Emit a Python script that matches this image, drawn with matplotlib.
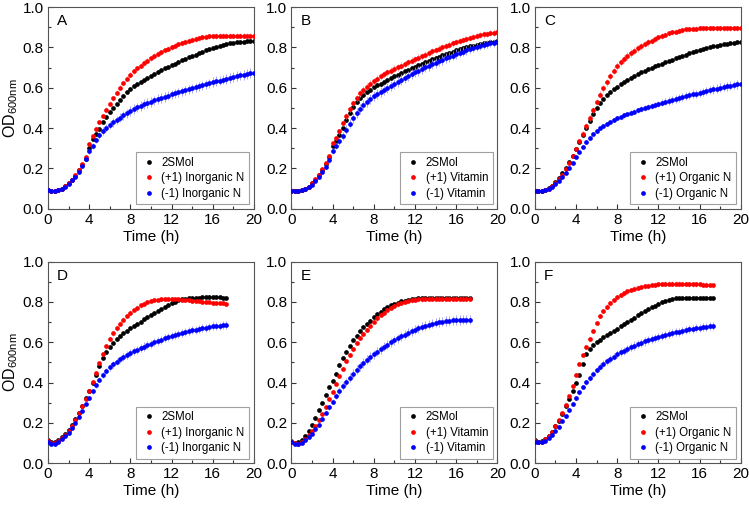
import numpy as np
import matplotlib
matplotlib.use("Agg")
import matplotlib.pyplot as plt
from matplotlib.ticker import MultipleLocator
from matplotlib.lines import Line2D

plt.rcParams["font.family"] = ["Liberation Sans", "DejaVu Sans"]
plt.rcParams["mathtext.default"] = "regular"

# sampling every 20 min
t_top = np.arange(61) / 3.0   # 0 .. 20 h
t_bot = np.arange(53) / 3.0   # 0 .. 17.33 h

legend_names = {
    "A": ["2SMol", "(+1) Inorganic N", "(-1) Inorganic N"],
    "B": ["2SMol", "(+1) Vitamin", "(-1) Vitamin"],
    "C": ["2SMol", "(+1) Organic N", "(-1) Organic N"],
}
legend_names["D"] = legend_names["A"]
legend_names["E"] = legend_names["B"]
legend_names["F"] = legend_names["C"]

# ---- panel A ----
A_ctrl = [0.092, 0.090, 0.089, 0.092, 0.100, 0.111, 0.127, 0.145, 0.165, 0.190, 0.218, 0.248,
          0.300, 0.345, 0.372, 0.398, 0.428, 0.455, 0.478, 0.500, 0.520, 0.540, 0.560, 0.578,
          0.595, 0.607, 0.619, 0.630, 0.640, 0.650, 0.660, 0.669, 0.678, 0.687, 0.696, 0.704,
          0.712, 0.720, 0.728, 0.736, 0.744, 0.751, 0.758, 0.765, 0.772, 0.779, 0.786, 0.792,
          0.798, 0.804, 0.809, 0.814, 0.818, 0.821, 0.824, 0.826, 0.828, 0.829, 0.830, 0.831, 0.832]
A_plus = [0.092, 0.090, 0.089, 0.092, 0.100, 0.111, 0.127, 0.145, 0.166, 0.192, 0.222, 0.255,
          0.320, 0.360, 0.395, 0.430, 0.462, 0.492, 0.520, 0.548, 0.575, 0.600, 0.623, 0.645,
          0.665, 0.681, 0.696, 0.710, 0.723, 0.735, 0.746, 0.757, 0.767, 0.776, 0.785, 0.793,
          0.801, 0.808, 0.815, 0.821, 0.827, 0.833, 0.838, 0.842, 0.846, 0.850, 0.853, 0.855,
          0.856, 0.857, 0.858, 0.858, 0.859, 0.859, 0.859, 0.859, 0.859, 0.858, 0.858, 0.858, 0.857]
A_minus = [0.092, 0.090, 0.089, 0.092, 0.099, 0.109, 0.124, 0.141, 0.160, 0.183, 0.210, 0.245,
           0.285, 0.310, 0.340, 0.365, 0.385, 0.400, 0.415, 0.428, 0.440, 0.452, 0.463, 0.474,
           0.485, 0.494, 0.503, 0.511, 0.518, 0.525, 0.531, 0.537, 0.543, 0.549, 0.555, 0.561,
           0.567, 0.572, 0.577, 0.582, 0.587, 0.592, 0.597, 0.602, 0.607, 0.612, 0.617, 0.622,
           0.627, 0.632, 0.636, 0.641, 0.645, 0.649, 0.653, 0.657, 0.661, 0.665, 0.669, 0.672, 0.675]
A_ctrl_err = [0.002, 0.002, 0.002, 0.002, 0.002, 0.002, 0.003, 0.003, 0.003, 0.003, 0.004, 0.004,
              0.005, 0.005, 0.005, 0.005, 0.005, 0.005, 0.005, 0.005, 0.005, 0.005, 0.005, 0.005,
              0.005, 0.005, 0.005, 0.005, 0.005, 0.005, 0.005, 0.005, 0.005, 0.005, 0.005, 0.005,
              0.005, 0.005, 0.005, 0.005, 0.005, 0.005, 0.005, 0.005, 0.005, 0.005, 0.005, 0.005,
              0.005, 0.005, 0.005, 0.005, 0.005, 0.005, 0.005, 0.005, 0.005, 0.005, 0.005, 0.005, 0.005]
A_plus_err = [0.002, 0.002, 0.002, 0.002, 0.002, 0.003, 0.003, 0.004, 0.004, 0.005, 0.006, 0.007,
              0.008, 0.008, 0.009, 0.010, 0.010, 0.011, 0.011, 0.012, 0.012, 0.012, 0.013, 0.013,
              0.013, 0.013, 0.013, 0.013, 0.013, 0.013, 0.013, 0.013, 0.013, 0.013, 0.013, 0.013,
              0.013, 0.013, 0.013, 0.013, 0.013, 0.013, 0.013, 0.013, 0.013, 0.013, 0.013, 0.013,
              0.013, 0.013, 0.013, 0.013, 0.013, 0.013, 0.013, 0.013, 0.013, 0.013, 0.013, 0.013, 0.013]
A_minus_err = [0.002, 0.002, 0.002, 0.002, 0.003, 0.003, 0.004, 0.004, 0.005, 0.006, 0.008, 0.010,
               0.012, 0.014, 0.016, 0.018, 0.019, 0.020, 0.021, 0.022, 0.022, 0.023, 0.023, 0.023,
               0.024, 0.024, 0.024, 0.024, 0.024, 0.024, 0.024, 0.024, 0.024, 0.024, 0.024, 0.024,
               0.024, 0.024, 0.024, 0.024, 0.024, 0.024, 0.024, 0.024, 0.024, 0.024, 0.024, 0.024,
               0.024, 0.024, 0.024, 0.024, 0.024, 0.024, 0.024, 0.024, 0.024, 0.024, 0.024, 0.024, 0.024]

# ---- panel B ----
B_ctrl = [0.090, 0.089, 0.088, 0.092, 0.099, 0.110, 0.126, 0.145, 0.167, 0.193, 0.222, 0.255,
          0.310, 0.335, 0.365, 0.400, 0.438, 0.475, 0.505, 0.528, 0.548, 0.565, 0.579, 0.591,
          0.602, 0.612, 0.621, 0.630, 0.639, 0.648, 0.657, 0.665, 0.674, 0.682, 0.690, 0.698,
          0.705, 0.713, 0.720, 0.727, 0.734, 0.741, 0.748, 0.755, 0.761, 0.767, 0.773, 0.779,
          0.785, 0.790, 0.795, 0.800, 0.805, 0.809, 0.813, 0.817, 0.820, 0.823, 0.826, 0.828, 0.830]
B_plus = [0.090, 0.089, 0.088, 0.092, 0.099, 0.110, 0.126, 0.146, 0.169, 0.196, 0.227, 0.262,
          0.325, 0.350, 0.385, 0.425, 0.460, 0.495, 0.525, 0.550, 0.572, 0.590, 0.606, 0.620,
          0.633, 0.645, 0.656, 0.666, 0.676, 0.685, 0.694, 0.702, 0.710, 0.718, 0.726, 0.734,
          0.742, 0.750, 0.757, 0.765, 0.772, 0.780, 0.787, 0.794, 0.801, 0.807, 0.814, 0.820,
          0.826, 0.832, 0.838, 0.843, 0.848, 0.853, 0.857, 0.861, 0.865, 0.868, 0.871, 0.873, 0.875]
B_minus = [0.090, 0.089, 0.088, 0.091, 0.097, 0.106, 0.120, 0.137, 0.157, 0.181, 0.208, 0.240,
           0.285, 0.310, 0.335, 0.362, 0.392, 0.422, 0.450, 0.474, 0.496, 0.515, 0.531, 0.545,
           0.557, 0.569, 0.580, 0.591, 0.601, 0.611, 0.621, 0.631, 0.641, 0.650, 0.659, 0.668,
           0.677, 0.685, 0.693, 0.701, 0.709, 0.717, 0.724, 0.731, 0.739, 0.746, 0.753, 0.760,
           0.767, 0.773, 0.779, 0.785, 0.791, 0.796, 0.802, 0.807, 0.811, 0.816, 0.820, 0.823, 0.826]
B_ctrl_err = [0.002, 0.002, 0.002, 0.002, 0.002, 0.003, 0.003, 0.004, 0.004, 0.005, 0.005, 0.006,
              0.007, 0.008, 0.008, 0.009, 0.009, 0.010, 0.010, 0.010, 0.010, 0.010, 0.010, 0.010,
              0.010, 0.010, 0.010, 0.010, 0.010, 0.010, 0.010, 0.010, 0.010, 0.010, 0.010, 0.010,
              0.010, 0.010, 0.010, 0.010, 0.010, 0.010, 0.010, 0.010, 0.010, 0.010, 0.010, 0.010,
              0.010, 0.010, 0.010, 0.010, 0.010, 0.010, 0.010, 0.010, 0.010, 0.010, 0.010, 0.010, 0.010]
B_plus_err = [0.002, 0.002, 0.002, 0.002, 0.003, 0.003, 0.004, 0.004, 0.005, 0.006, 0.007, 0.008,
              0.010, 0.011, 0.012, 0.013, 0.014, 0.015, 0.016, 0.016, 0.017, 0.017, 0.017, 0.017,
              0.017, 0.017, 0.017, 0.017, 0.017, 0.017, 0.017, 0.017, 0.017, 0.017, 0.017, 0.017,
              0.017, 0.017, 0.017, 0.017, 0.017, 0.017, 0.017, 0.017, 0.017, 0.017, 0.017, 0.016,
              0.016, 0.016, 0.016, 0.016, 0.016, 0.016, 0.016, 0.016, 0.016, 0.016, 0.016, 0.016, 0.016]
B_minus_err = [0.002, 0.002, 0.002, 0.002, 0.003, 0.003, 0.004, 0.005, 0.006, 0.007, 0.009, 0.011,
               0.013, 0.015, 0.017, 0.019, 0.021, 0.022, 0.023, 0.024, 0.024, 0.025, 0.025, 0.025,
               0.025, 0.025, 0.025, 0.025, 0.025, 0.025, 0.025, 0.025, 0.025, 0.025, 0.025, 0.025,
               0.025, 0.025, 0.025, 0.025, 0.024, 0.024, 0.024, 0.024, 0.024, 0.024, 0.023, 0.023,
               0.023, 0.022, 0.022, 0.022, 0.021, 0.021, 0.021, 0.020, 0.020, 0.020, 0.020, 0.019, 0.019]

# ---- panel C ----
C_ctrl = [0.088, 0.087, 0.088, 0.093, 0.102, 0.115, 0.132, 0.152, 0.176, 0.203, 0.232, 0.262,
          0.295, 0.330, 0.365, 0.400, 0.435, 0.468, 0.500, 0.525, 0.545, 0.562, 0.578, 0.592,
          0.605, 0.617, 0.628, 0.639, 0.649, 0.659, 0.668, 0.676, 0.684, 0.692, 0.699, 0.706,
          0.713, 0.720, 0.726, 0.733, 0.740, 0.746, 0.753, 0.759, 0.765, 0.771, 0.777, 0.782,
          0.787, 0.792, 0.797, 0.801, 0.805, 0.809, 0.813, 0.816, 0.819, 0.822, 0.824, 0.826, 0.828]
C_plus = [0.088, 0.087, 0.088, 0.092, 0.100, 0.112, 0.128, 0.147, 0.170, 0.197, 0.227, 0.260,
          0.295, 0.335, 0.372, 0.410, 0.450, 0.490, 0.530, 0.565, 0.598, 0.628, 0.657, 0.684,
          0.708, 0.726, 0.743, 0.758, 0.772, 0.784, 0.795, 0.806, 0.816, 0.825, 0.834, 0.842,
          0.850, 0.857, 0.864, 0.870, 0.875, 0.879, 0.883, 0.886, 0.889, 0.891, 0.892, 0.893,
          0.894, 0.895, 0.895, 0.895, 0.896, 0.896, 0.896, 0.896, 0.896, 0.896, 0.896, 0.896, 0.896]
C_minus = [0.088, 0.087, 0.087, 0.091, 0.098, 0.108, 0.122, 0.138, 0.157, 0.178, 0.202, 0.228,
           0.255, 0.282, 0.308, 0.332, 0.352, 0.370, 0.386, 0.399, 0.411, 0.422, 0.432, 0.441,
           0.449, 0.456, 0.463, 0.470, 0.476, 0.482, 0.488, 0.494, 0.500, 0.505, 0.510, 0.515,
           0.520, 0.525, 0.530, 0.535, 0.540, 0.545, 0.549, 0.554, 0.558, 0.563, 0.567, 0.571,
           0.575, 0.580, 0.584, 0.588, 0.592, 0.596, 0.600, 0.604, 0.608, 0.611, 0.614, 0.617, 0.620]
C_ctrl_err = [0.002, 0.002, 0.002, 0.002, 0.002, 0.002, 0.003, 0.003, 0.003, 0.004, 0.004, 0.004,
              0.005, 0.005, 0.005, 0.005, 0.005, 0.005, 0.005, 0.005, 0.005, 0.005, 0.005, 0.005,
              0.005, 0.005, 0.005, 0.005, 0.005, 0.005, 0.005, 0.005, 0.005, 0.005, 0.005, 0.005,
              0.005, 0.005, 0.005, 0.005, 0.005, 0.005, 0.005, 0.005, 0.005, 0.005, 0.005, 0.005,
              0.005, 0.005, 0.005, 0.005, 0.005, 0.005, 0.005, 0.005, 0.005, 0.005, 0.005, 0.005, 0.005]
C_plus_err = [0.002, 0.002, 0.002, 0.002, 0.002, 0.003, 0.003, 0.004, 0.005, 0.006, 0.007, 0.008,
              0.010, 0.011, 0.012, 0.013, 0.014, 0.015, 0.016, 0.017, 0.017, 0.018, 0.018, 0.018,
              0.018, 0.018, 0.018, 0.018, 0.018, 0.017, 0.017, 0.017, 0.016, 0.016, 0.015, 0.015,
              0.014, 0.014, 0.013, 0.013, 0.012, 0.012, 0.012, 0.012, 0.012, 0.012, 0.012, 0.012,
              0.012, 0.012, 0.012, 0.012, 0.012, 0.012, 0.012, 0.012, 0.012, 0.012, 0.012, 0.012, 0.012]
C_minus_err = [0.002, 0.002, 0.002, 0.002, 0.002, 0.003, 0.003, 0.003, 0.004, 0.004, 0.005, 0.005,
               0.006, 0.006, 0.006, 0.007, 0.007, 0.007, 0.008, 0.008, 0.008, 0.009, 0.009, 0.010,
               0.010, 0.011, 0.011, 0.012, 0.012, 0.013, 0.013, 0.014, 0.014, 0.015, 0.015, 0.016,
               0.016, 0.017, 0.017, 0.018, 0.018, 0.018, 0.019, 0.019, 0.019, 0.020, 0.020, 0.020,
               0.020, 0.021, 0.021, 0.021, 0.021, 0.021, 0.022, 0.022, 0.022, 0.022, 0.022, 0.022, 0.022]

# ---- panel D ----
D_ctrl = [0.115, 0.108, 0.108, 0.116, 0.128, 0.145, 0.165, 0.190, 0.218, 0.250, 0.285, 0.322,
          0.360, 0.400, 0.440, 0.480, 0.520, 0.553, 0.578, 0.598, 0.615, 0.630, 0.644, 0.657,
          0.669, 0.681, 0.692, 0.703, 0.714, 0.725, 0.735, 0.745, 0.755, 0.765, 0.775, 0.784,
          0.793, 0.801, 0.808, 0.813, 0.817, 0.819, 0.821, 0.822, 0.822, 0.823, 0.823, 0.823,
          0.823, 0.823, 0.823, 0.822, 0.822]
D_plus = [0.110, 0.103, 0.103, 0.112, 0.125, 0.142, 0.162, 0.187, 0.215, 0.247, 0.282, 0.320,
          0.360, 0.403, 0.447, 0.495, 0.540, 0.580, 0.615, 0.645, 0.670, 0.692, 0.712, 0.730,
          0.746, 0.760, 0.772, 0.783, 0.792, 0.799, 0.805, 0.809, 0.812, 0.814, 0.815, 0.815,
          0.815, 0.814, 0.813, 0.812, 0.810, 0.809, 0.807, 0.806, 0.804, 0.802, 0.800, 0.798,
          0.797, 0.795, 0.794, 0.793, 0.792]
D_minus = [0.105, 0.097, 0.098, 0.106, 0.118, 0.133, 0.152, 0.175, 0.200, 0.228, 0.260, 0.292,
           0.325, 0.357, 0.387, 0.415, 0.438, 0.458, 0.475, 0.490, 0.503, 0.515, 0.526, 0.536,
           0.546, 0.555, 0.563, 0.571, 0.579, 0.586, 0.593, 0.600, 0.607, 0.613, 0.619, 0.625,
           0.631, 0.636, 0.641, 0.646, 0.651, 0.655, 0.659, 0.663, 0.667, 0.670, 0.673, 0.676,
           0.679, 0.681, 0.683, 0.685, 0.687]
D_ctrl_err = [0.004, 0.003, 0.003, 0.003, 0.003, 0.003, 0.003, 0.003, 0.003, 0.004, 0.004, 0.004,
              0.004, 0.004, 0.004, 0.004, 0.004, 0.004, 0.004, 0.004, 0.004, 0.004, 0.004, 0.004,
              0.004, 0.004, 0.004, 0.004, 0.004, 0.004, 0.004, 0.004, 0.004, 0.004, 0.004, 0.004,
              0.004, 0.004, 0.004, 0.004, 0.004, 0.004, 0.004, 0.004, 0.004, 0.004, 0.004, 0.004,
              0.004, 0.004, 0.004, 0.004, 0.004]
D_plus_err = [0.004, 0.003, 0.003, 0.003, 0.003, 0.003, 0.004, 0.004, 0.005, 0.005, 0.006, 0.006,
              0.007, 0.007, 0.008, 0.009, 0.010, 0.011, 0.011, 0.012, 0.012, 0.012, 0.012, 0.012,
              0.012, 0.012, 0.012, 0.011, 0.011, 0.010, 0.010, 0.009, 0.009, 0.008, 0.008, 0.007,
              0.007, 0.006, 0.006, 0.006, 0.006, 0.006, 0.006, 0.006, 0.006, 0.006, 0.006, 0.006,
              0.006, 0.006, 0.006, 0.006, 0.006]
D_minus_err = [0.004, 0.003, 0.003, 0.003, 0.003, 0.004, 0.004, 0.005, 0.006, 0.007, 0.008, 0.009,
               0.010, 0.011, 0.012, 0.013, 0.014, 0.015, 0.016, 0.017, 0.018, 0.018, 0.019, 0.019,
               0.020, 0.020, 0.020, 0.020, 0.020, 0.020, 0.020, 0.020, 0.020, 0.020, 0.020, 0.020,
               0.020, 0.020, 0.020, 0.020, 0.020, 0.020, 0.020, 0.020, 0.020, 0.020, 0.020, 0.020,
               0.020, 0.020, 0.020, 0.020, 0.020]

# ---- panel E ----
E_ctrl = [0.110, 0.103, 0.105, 0.117, 0.135, 0.160, 0.190, 0.225, 0.262, 0.300, 0.338, 0.378,
          0.410, 0.445, 0.485, 0.520, 0.552, 0.580, 0.610, 0.633, 0.655, 0.675, 0.692, 0.708,
          0.724, 0.738, 0.751, 0.763, 0.774, 0.783, 0.791, 0.797, 0.803, 0.807, 0.811, 0.814,
          0.816, 0.818, 0.819, 0.820, 0.821, 0.821, 0.822, 0.822, 0.822, 0.822, 0.822, 0.822,
          0.822, 0.822, 0.822, 0.822, 0.822]
E_plus = [0.108, 0.100, 0.098, 0.106, 0.120, 0.138, 0.160, 0.185, 0.213, 0.245, 0.280, 0.318,
          0.355, 0.395, 0.432, 0.470, 0.505, 0.538, 0.568, 0.595, 0.620, 0.642, 0.663, 0.683,
          0.701, 0.718, 0.733, 0.747, 0.760, 0.771, 0.780, 0.788, 0.795, 0.800, 0.805, 0.808,
          0.811, 0.813, 0.814, 0.815, 0.816, 0.816, 0.816, 0.817, 0.817, 0.817, 0.817, 0.817,
          0.817, 0.817, 0.817, 0.817, 0.817]
E_minus = [0.105, 0.097, 0.096, 0.103, 0.114, 0.128, 0.146, 0.168, 0.192, 0.220, 0.248, 0.277,
           0.306, 0.333, 0.358, 0.382, 0.404, 0.425, 0.445, 0.463, 0.481, 0.497, 0.513, 0.527,
           0.541, 0.554, 0.566, 0.578, 0.589, 0.600, 0.610, 0.620, 0.629, 0.638, 0.647, 0.655,
           0.663, 0.670, 0.677, 0.683, 0.688, 0.693, 0.697, 0.700, 0.703, 0.705, 0.707, 0.709,
           0.710, 0.711, 0.712, 0.712, 0.712]
E_ctrl_err = [0.004, 0.003, 0.003, 0.003, 0.003, 0.003, 0.004, 0.004, 0.004, 0.005, 0.005, 0.005,
              0.006, 0.006, 0.006, 0.006, 0.006, 0.006, 0.006, 0.006, 0.006, 0.006, 0.006, 0.006,
              0.006, 0.006, 0.006, 0.006, 0.006, 0.006, 0.006, 0.006, 0.006, 0.006, 0.006, 0.006,
              0.006, 0.006, 0.006, 0.006, 0.006, 0.006, 0.006, 0.006, 0.006, 0.006, 0.006, 0.006,
              0.006, 0.006, 0.006, 0.006, 0.006]
E_plus_err = [0.004, 0.003, 0.003, 0.003, 0.003, 0.004, 0.004, 0.005, 0.005, 0.006, 0.006, 0.007,
              0.007, 0.008, 0.008, 0.009, 0.009, 0.010, 0.010, 0.010, 0.010, 0.010, 0.010, 0.010,
              0.010, 0.010, 0.010, 0.010, 0.011, 0.011, 0.011, 0.011, 0.012, 0.012, 0.012, 0.012,
              0.012, 0.012, 0.012, 0.012, 0.012, 0.012, 0.012, 0.012, 0.012, 0.012, 0.012, 0.012,
              0.012, 0.012, 0.012, 0.012, 0.012]
E_minus_err = [0.004, 0.003, 0.003, 0.003, 0.004, 0.004, 0.005, 0.006, 0.007, 0.008, 0.010, 0.012,
               0.014, 0.016, 0.018, 0.019, 0.020, 0.021, 0.022, 0.022, 0.023, 0.023, 0.023, 0.023,
               0.023, 0.023, 0.023, 0.023, 0.023, 0.023, 0.023, 0.023, 0.023, 0.023, 0.023, 0.023,
               0.023, 0.023, 0.023, 0.023, 0.023, 0.023, 0.023, 0.023, 0.023, 0.023, 0.023, 0.023,
               0.023, 0.023, 0.023, 0.023, 0.023]

# ---- panel F ----
F_ctrl = [0.115, 0.108, 0.110, 0.120, 0.135, 0.157, 0.183, 0.212, 0.245, 0.282, 0.320, 0.360,
          0.400, 0.440, 0.490, 0.540, 0.567, 0.585, 0.600, 0.612, 0.624, 0.636, 0.647, 0.658,
          0.668, 0.680, 0.690, 0.701, 0.712, 0.722, 0.733, 0.743, 0.753, 0.763, 0.773, 0.782,
          0.791, 0.799, 0.806, 0.811, 0.815, 0.818, 0.820, 0.821, 0.822, 0.822, 0.822, 0.822,
          0.822, 0.822, 0.822, 0.822, 0.822]
F_plus = [0.112, 0.105, 0.107, 0.118, 0.134, 0.156, 0.183, 0.214, 0.250, 0.290, 0.335, 0.385,
          0.440, 0.490, 0.535, 0.575, 0.617, 0.658, 0.697, 0.728, 0.755, 0.777, 0.795, 0.810,
          0.823, 0.834, 0.844, 0.852, 0.859, 0.865, 0.870, 0.874, 0.878, 0.881, 0.884, 0.886,
          0.888, 0.889, 0.890, 0.890, 0.890, 0.890, 0.890, 0.889, 0.889, 0.888, 0.888, 0.887,
          0.887, 0.886, 0.885, 0.884, 0.883]
F_minus = [0.108, 0.104, 0.105, 0.112, 0.123, 0.138, 0.158, 0.182, 0.208, 0.236, 0.265, 0.295,
           0.325, 0.352, 0.378, 0.402, 0.424, 0.444, 0.462, 0.478, 0.493, 0.506, 0.518, 0.529,
           0.540, 0.550, 0.559, 0.568, 0.576, 0.584, 0.591, 0.598, 0.604, 0.610, 0.616, 0.621,
           0.626, 0.631, 0.636, 0.640, 0.645, 0.649, 0.653, 0.657, 0.660, 0.664, 0.667, 0.670,
           0.673, 0.676, 0.678, 0.681, 0.683]
F_ctrl_err = [0.004, 0.003, 0.003, 0.003, 0.003, 0.003, 0.003, 0.003, 0.003, 0.004, 0.004, 0.004,
              0.004, 0.004, 0.004, 0.004, 0.004, 0.004, 0.004, 0.004, 0.004, 0.004, 0.004, 0.004,
              0.004, 0.004, 0.004, 0.004, 0.004, 0.004, 0.004, 0.004, 0.004, 0.004, 0.004, 0.004,
              0.004, 0.004, 0.004, 0.004, 0.004, 0.004, 0.004, 0.004, 0.004, 0.004, 0.004, 0.004,
              0.004, 0.004, 0.004, 0.004, 0.004]
F_plus_err = [0.004, 0.003, 0.003, 0.003, 0.003, 0.003, 0.004, 0.004, 0.005, 0.005, 0.006, 0.006,
              0.007, 0.007, 0.008, 0.008, 0.009, 0.009, 0.010, 0.010, 0.010, 0.011, 0.011, 0.011,
              0.011, 0.011, 0.012, 0.012, 0.012, 0.012, 0.012, 0.012, 0.012, 0.012, 0.012, 0.012,
              0.012, 0.012, 0.012, 0.012, 0.012, 0.012, 0.012, 0.012, 0.012, 0.012, 0.012, 0.012,
              0.012, 0.012, 0.012, 0.012, 0.012]
F_minus_err = [0.004, 0.003, 0.003, 0.003, 0.003, 0.004, 0.004, 0.005, 0.006, 0.007, 0.008, 0.009,
               0.010, 0.011, 0.012, 0.013, 0.014, 0.015, 0.016, 0.017, 0.018, 0.018, 0.019, 0.019,
               0.020, 0.020, 0.020, 0.020, 0.020, 0.020, 0.020, 0.020, 0.020, 0.020, 0.020, 0.020,
               0.020, 0.020, 0.020, 0.020, 0.020, 0.020, 0.020, 0.020, 0.020, 0.020, 0.020, 0.020,
               0.020, 0.020, 0.020, 0.020, 0.020]

panels = [
    ("A", t_top, [(A_ctrl, A_ctrl_err), (A_plus, A_plus_err), (A_minus, A_minus_err)]),
    ("B", t_top, [(B_ctrl, B_ctrl_err), (B_plus, B_plus_err), (B_minus, B_minus_err)]),
    ("C", t_top, [(C_ctrl, C_ctrl_err), (C_plus, C_plus_err), (C_minus, C_minus_err)]),
    ("D", t_bot, [(D_ctrl, D_ctrl_err), (D_plus, D_plus_err), (D_minus, D_minus_err)]),
    ("E", t_bot, [(E_ctrl, E_ctrl_err), (E_plus, E_plus_err), (E_minus, E_minus_err)]),
    ("F", t_bot, [(F_ctrl, F_ctrl_err), (F_plus, F_plus_err), (F_minus, F_minus_err)]),
]

dot_colors = ["#000000", "#ff0000", "#0000ff"]
err_colors = ["#8c8c8c", "#f29a9a", "#9a9af2"]

# axes rectangles (fraction of figure)
lefts = [0.064, 0.389, 0.714]
bottoms = [0.589, 0.088]
w, h = 0.275, 0.397

fig = plt.figure(figsize=(7.49, 5.08), dpi=100)

for i, (letter, t, series) in enumerate(panels):
    row, col = divmod(i, 3)
    ax = fig.add_axes([lefts[col], bottoms[row], w, h])
    handles = []
    for k, (vals, errs) in enumerate(series):
        ax.errorbar(t, vals, yerr=errs, fmt="o", ms=3.4, mew=0,
                    color=dot_colors[k], ecolor=err_colors[k],
                    elinewidth=0.6, capsize=1.6, capthick=0.6, zorder=2 + k)
        handles.append(Line2D([], [], ls="none", marker="o", ms=3.4, mew=0,
                              color=dot_colors[k], label=legend_names[letter][k]))
    ax.set_xlim(0, 20)
    ax.set_ylim(0, 1.0)
    ax.xaxis.set_major_locator(MultipleLocator(4))
    ax.xaxis.set_minor_locator(MultipleLocator(2))
    ax.yaxis.set_major_locator(MultipleLocator(0.2))
    ax.yaxis.set_minor_locator(MultipleLocator(0.1))
    ax.tick_params(which="both", direction="in", top=False, right=False,
                   labelsize=11, width=0.8, colors="#333333", labelcolor="black")
    ax.tick_params(which="major", length=3.5, pad=3)
    ax.tick_params(which="minor", length=2)
    ax.yaxis.set_major_formatter(plt.FormatStrFormatter("%.1f"))
    for sp in ax.spines.values():
        sp.set_color("#555555")
        sp.set_linewidth(0.8)
    ax.set_xlabel("Time (h)", fontsize=11, labelpad=2)
    if col == 0:
        ax.set_ylabel("OD$_{600nm}$", fontsize=11.5, labelpad=2)
    ax.text(0.045, 0.965, letter, transform=ax.transAxes, ha="left", va="top", fontsize=11)
    leg = ax.legend(handles=handles, loc="lower right", fontsize=8.3, frameon=True,
                    fancybox=False, edgecolor="#888888", handletextpad=0.4,
                    handlelength=1.4, borderpad=0.4, labelspacing=0.3, borderaxespad=0.4)
    leg.get_frame().set_linewidth(0.8)

fig.savefig("out.png", dpi=100)
